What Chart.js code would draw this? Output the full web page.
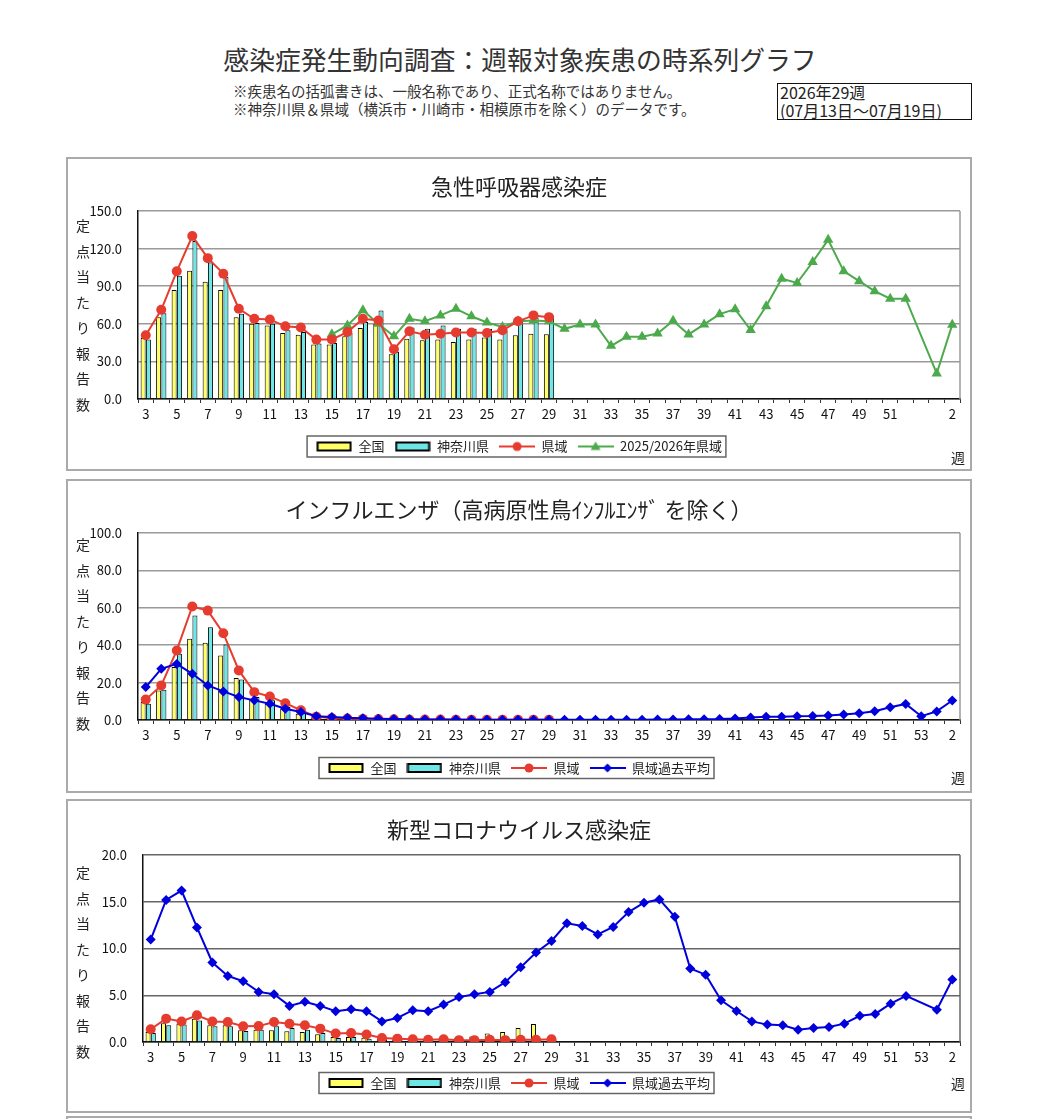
<!DOCTYPE html>
<html lang="ja">
<head>
<meta charset="utf-8">
<script src="https://cdn.jsdelivr.net/npm/chart.js@4.4.1/dist/chart.umd.min.js"></script>
<style>
body{margin:0;background:#fff;font-family:'Noto Sans CJK JP',sans-serif;color:#222;}
#page{position:relative;width:1050px;height:1119px;overflow:hidden;background:#fff;}
.abs{position:absolute;white-space:nowrap;}
.panel{position:absolute;left:66px;width:906px;height:314px;}
.panel canvas{position:absolute;left:0;top:0;}
.frame{position:absolute;left:0;top:0;width:906px;height:314px;box-sizing:border-box;border:2px solid #aaa;pointer-events:none;}
.ytitle{position:absolute;left:8px;width:18px;font-size:14px;line-height:25.5px;text-align:center;color:#222;}
.wk{position:absolute;left:885px;font-size:14px;line-height:20px;color:#222;}
</style>
</head>
<body>
<div id="page">
  <div class="abs" style="left:0;width:1040px;top:43px;text-align:center;font-size:25.8px;line-height:32px;color:#333;">感染症発生動向調査：週報対象疾患の時系列グラフ</div>
  <div class="abs" style="left:233px;top:82px;font-size:14.5px;line-height:18px;color:#333;">※疾患名の括弧書きは、一般名称であり、正式名称ではありません。<br>※神奈川県＆県域（横浜市・川崎市・相模原市を除く）のデータです。</div>
  <div class="abs" style="left:777px;top:83px;width:195px;height:37px;box-sizing:border-box;border:1.5px solid #111;padding-left:2px;font-size:16px;line-height:17.5px;color:#222;">2026年29週<br>(07月13日～07月19日)</div>

  <div class="panel" style="top:157px;">
    <canvas id="c1" width="906" height="314"></canvas>
    <div class="frame"></div>
    <div class="ytitle" style="top:56px;">定<br>点<br>当<br>た<br>り<br>報<br>告<br>数</div>
    <div class="wk" style="top:290px;">週</div>
  </div>
  <div class="panel" style="top:479px;">
    <canvas id="c2" width="906" height="314"></canvas>
    <div class="frame"></div>
    <div class="ytitle" style="top:53px;">定<br>点<br>当<br>た<br>り<br>報<br>告<br>数</div>
    <div class="wk" style="top:288px;">週</div>
  </div>
  <div class="panel" style="top:799px;">
    <canvas id="c3" width="906" height="314"></canvas>
    <div class="frame"></div>
    <div class="ytitle" style="top:61px;">定<br>点<br>当<br>た<br>り<br>報<br>告<br>数</div>
    <div class="wk" style="top:274px;">週</div>
  </div>
  <div class="panel" style="top:1116px;"><div class="frame"></div></div>
</div>
<script>
// ---------- categories (weeks) ----------
const weeks = ['3','4','5','6','7','8','9','10','11','12','13','14','15','16','17','18','19','20','21','22','23','24','25','26','27','28','29','30','31','32','33','34','35','36','37','38','39','40','41','42','43','44','45','46','47','48','49','50','51','52','53','1','2'];
// tick labels (chart 1 has no week 53 label)
const tickLabelsResp = weeks.map(w => w === '53' ? '' : w);
const tickLabelsFlu = weeks;
const tickLabelsCov = weeks;
const yTicksResp = [0, 30, 60, 90, 120, 150];
const yTicksFlu = [0, 20, 40, 60, 80, 100];
const yTicksCov = [0, 5, 10, 15, 20];

// ---------- 急性呼吸器感染症 ----------
const respNational = [48.7,65.3,87,102.4,93.6,87,65.3,60,58.7,52.6,51.3,43.4,43.4,50,56.6,60,35.7,48,46.8,47.4,45.5,47.4,49,47.4,50.8,52,51.6];
const respKanagawa = [47.4,68.5,98.4,126,109,97.5,68,60.6,60,54.8,53.4,44.2,44.7,52.6,61.4,70.6,37.6,57,56,58.7,56,56,56,54.2,64,65,66.7];
const respPref = [50.8,71.2,101.9,130,112.4,100,72,64,63.5,58,57,47.4,47.5,53.4,64,62.7,39.7,54,51.3,52,53,53,52.6,54.8,62,66.7,65.3];
const respPrevSeason = [null,null,null,null,null,null,null,null,null,null,null,null,
  51.6,58.7,70.8,60,50,64,62,66.7,72,66,61,57.4,62,62.7,62,56,59.5,59.5,42.4,49.6,49.6,52.3,62.4,51.5,59.5,67.7,71.7,55,74,96,92.6,109.3,127,102,94,86,80,80,
  null,20.4,59.3];

// ---------- インフルエンザ ----------
const fluNational = [9.6,15.8,28.3,43.4,41.3,34.5,22.4,11.4,8.7,6.0,3.4,1.5,0.9,0.6,0.5,0.4,0.3,0.2,0.2,0.2,0.1,0.1,0.1,0.1,0.1,0.1,0.1];
const fluKanagawa = [8.7,16.2,35.4,55.9,49.6,40.4,21.7,12.3,10.5,6.9,4.3,1.6,0.8,0.5,0.4,0.3,0.2,0.2,0.1,0.1,0.1,0.1,0.1,0.1,0.1,0.1,0.1];
const fluPref = [10.9,18.5,37.2,60.7,58.5,46.4,26.5,14.9,12.6,9.0,5.2,1.8,1.0,0.8,0.6,0.5,0.4,0.3,0.3,0.3,0.2,0.2,0.2,0.2,0.2,0.2,0.2];
const fluPastAvg = [17.6,27.4,30.0,24.7,18.5,15.3,12.3,10.5,8.7,6.0,4.3,2.0,1.6,1.2,1.0,0.7,0.5,0.4,0.3,0.3,0.3,0.2,0.2,0.2,0.2,0.2,0.2,
  0.2,0.2,0.2,0.2,0.2,0.2,0.3,0.3,0.4,0.4,0.5,0.8,1.3,1.7,1.8,2.0,2.1,2.4,3.0,3.6,4.7,6.8,8.6,2.0,4.6,10.4];

// ---------- 新型コロナウイルス感染症 ----------
const covNational = [1.07,2.0,1.96,2.5,1.8,1.8,1.25,1.3,1.25,1.14,1.07,0.82,0.54,0.54,0.46,0.35,0.3,0.3,0.3,0.35,0.4,0.6,0.9,1.07,1.5,1.93,null];
const covKanagawa = [0.96,1.8,1.86,2.3,1.68,1.68,1.18,1.32,1.68,1.5,1.32,0.96,0.43,0.54,0.36,0.3,0.25,0.2,0.2,0.2,0.2,0.2,0.2,0.25,0.25,0.2,0.2];
const covPref = [1.36,2.5,2.2,2.86,2.2,2.14,1.68,1.7,2.14,1.96,1.8,1.43,0.9,0.96,0.8,0.43,0.36,0.3,0.25,0.3,0.2,0.2,0.25,0.2,0.25,0.25,0.3];
const covPastAvg = [10.96,15.2,16.2,12.25,8.5,7.07,6.5,5.36,5.1,3.86,4.3,3.86,3.3,3.5,3.3,2.2,2.57,3.4,3.3,4.0,4.8,5.1,5.36,6.4,8.0,9.57,10.8,
  12.7,12.4,11.5,12.3,13.9,14.9,15.25,13.4,7.86,7.2,4.46,3.32,2.2,1.86,1.8,1.32,1.5,1.6,1.96,2.8,3.0,4.1,4.93,null,3.46,6.68];

// ---------- styling ----------
const COL = { yellow:'#ffff66', cyan:'#6ee6e6', red:'#e63c30', green:'#4caa4c', blue:'#0000dd' };
Chart.defaults.font.family = "'Noto Sans CJK JP', sans-serif";
Chart.defaults.color = '#000';

function symbolBar(fill){
  const c = document.createElement('canvas'); c.width = 36; c.height = 12;
  const x = c.getContext('2d');
  x.fillStyle = fill; x.fillRect(1.5,2,33,8);
  x.strokeStyle = '#000'; x.lineWidth = 2; x.strokeRect(1.5,2,33,8);
  return c;
}
function symbolLine(color, style){
  const c = document.createElement('canvas'); c.width = 36; c.height = 14;
  const x = c.getContext('2d');
  x.strokeStyle = color; x.lineWidth = 2;
  x.beginPath(); x.moveTo(0,7); x.lineTo(36,7); x.stroke();
  x.fillStyle = color;
  x.beginPath();
  if (style === 'circle') { x.arc(18,7,4.5,0,Math.PI*2); }
  else if (style === 'triangle') { x.moveTo(18,2); x.lineTo(23,10.5); x.lineTo(13,10.5); x.closePath(); }
  else { x.moveTo(18,2.5); x.lineTo(22.5,7); x.lineTo(18,11.5); x.lineTo(13.5,7); x.closePath(); }
  x.fill();
  return c;
}

const rightFrame = {
  id:'rightFrame',
  beforeDatasetsDraw(chart, args, opts){
    const {ctx, chartArea:a} = chart;
    ctx.save(); ctx.strokeStyle = opts.color || '#999'; ctx.lineWidth = 1.5;
    ctx.beginPath(); ctx.moveTo(a.right, a.top); ctx.lineTo(a.right, a.bottom); ctx.stroke();
    ctx.restore();
  }
};
const legendBox = {
  id:'legendBox',
  afterDraw(chart){
    const lg = chart.legend; if (!lg || !lg.legendHitBoxes || !lg.legendHitBoxes.length) return;
    let l=Infinity, r=-Infinity, t=Infinity, b=-Infinity;
    lg.legendHitBoxes.forEach(h => { l=Math.min(l,h.left); r=Math.max(r,h.left+h.width); t=Math.min(t,h.top); b=Math.max(b,h.top+h.height); });
    const ctx = chart.ctx; ctx.save(); ctx.strokeStyle = '#666'; ctx.lineWidth = 1.5;
    ctx.strokeRect(l-9, t-4, r-l+13, b-t+8); ctx.restore();
  }
};

function makeChart(id, cfg){
  const symbols = cfg.datasets.map(d => d.type === 'bar' ? symbolBar(d.backgroundColor) : symbolLine(d.borderColor, d.pointStyle));
  new Chart(document.getElementById(id), {
    type:'bar',
    data:{ labels: weeks, datasets: cfg.datasets },
    plugins:[rightFrame, legendBox],
    options:{
      responsive:false, animation:false,
      layout:{ padding:{ left:0, right:0, top:0, bottom:cfg.padBottom } },
      plugins:{
        tooltip:{ enabled:false },
        rightFrame:{ color: cfg.gridColor },
        title:{ display:true, text:cfg.title, color:'#222', font:{ size:22, weight:'normal' }, padding:{ top:cfg.titleTop, bottom:cfg.titleBottom } },
        legend:{
          position:'bottom',
          labels:{
            usePointStyle:true, pointStyleWidth:36, padding:10, color:'#222', font:{ size:13 },
            generateLabels: () => cfg.datasets.map((d,i) => ({ text:d.label, pointStyle:symbols[i], fillStyle:'#fff', strokeStyle:'#fff', lineWidth:0, hidden:false, datasetIndex:i, fontColor:'#222' }))
          }
        }
      },
      scales:{
        x:{
          afterFit(s){ s.height = cfg.xHeight; },
          grid:{ display:true, drawOnChartArea:false, drawTicks:true, tickLength:4, color:'#333', lineWidth:1, offset:true },
          border:{ display:true, color:'#111', width:1.5 },
          ticks:{ autoSkip:false, maxRotation:0, minRotation:0, padding:3, color:'#111', font:{ size:13 },
                  callback:(v,i) => i % 2 === 0 ? cfg.tickLabels[i] : '' }
        },
        y:{
          min:0, max:cfg.yTicks[cfg.yTicks.length-1],
          afterFit(s){ s.width = cfg.plotLeft; },
          afterBuildTicks(s){ s.ticks = cfg.yTicks.map(v => ({ value:v })); },
          grid:{ color:cfg.gridColor, lineWidth:1.5, drawTicks:false },
          border:{ display:true, color:'#111', width:1.5 },
          ticks:{ padding:16, color:'#111', font:{ size:13 }, callback:v => Number(v).toFixed(1) }
        },
        yRightSpace:{
          position:'right', display:true, min:0, max:1,
          afterFit(s){ s.width = 12; },
          grid:{ display:false, drawTicks:false },
          border:{ display:false },
          ticks:{ display:false }
        }
      }
    }
  });
}

const barOpts = { categoryPercentage:0.68, barPercentage:0.95, borderColor:'#000', borderWidth:1, order:3 };
const lineOpts = { borderWidth:2, tension:0, spanGaps:true };

makeChart('c1', {
  title:'急性呼吸器感染症', titleTop:16.8, titleBottom:10.8, plotLeft:72, xHeight:31, padBottom:8,
  tickLabels:tickLabelsResp, yTicks:yTicksResp, gridColor:'#9a9a9a',
  datasets:[
    Object.assign({ type:'bar', label:'全国', data:respNational, backgroundColor:COL.yellow }, barOpts),
    Object.assign({ type:'bar', label:'神奈川県', data:respKanagawa, backgroundColor:COL.cyan }, barOpts),
    Object.assign({ type:'line', label:'県域', data:respPref, borderColor:COL.red, backgroundColor:COL.red, pointStyle:'circle', pointRadius:5, pointBorderWidth:0, order:1 }, lineOpts),
    Object.assign({ type:'line', label:'2025/2026年県域', data:respPrevSeason, borderColor:COL.green, backgroundColor:COL.green, pointStyle:'triangle', pointRadius:6, pointBorderWidth:0, order:2 }, lineOpts)
  ]
});
makeChart('c2', {
  title:'インフルエンザ（高病原性鳥ｲﾝﾌﾙｴﾝｻﾞ を除く）', titleTop:17.8, titleBottom:9.8, plotLeft:72, xHeight:31.5, padBottom:8.5,
  tickLabels:tickLabelsFlu, yTicks:yTicksFlu, gridColor:'#9a9a9a',
  datasets:[
    Object.assign({ type:'bar', label:'全国', data:fluNational, backgroundColor:COL.yellow }, barOpts),
    Object.assign({ type:'bar', label:'神奈川県', data:fluKanagawa, backgroundColor:COL.cyan }, barOpts),
    Object.assign({ type:'line', label:'県域', data:fluPref, borderColor:COL.red, backgroundColor:COL.red, pointStyle:'circle', pointRadius:5, pointBorderWidth:0, order:2 }, lineOpts),
    Object.assign({ type:'line', label:'県域過去平均', data:fluPastAvg, borderColor:COL.blue, backgroundColor:COL.blue, pointStyle:'rectRot', pointRadius:5, pointBorderWidth:0, order:1 }, lineOpts)
  ]
});
makeChart('c3', {
  title:'新型コロナウイルス感染症', titleTop:17.8, titleBottom:11.8, plotLeft:77, xHeight:24.5, padBottom:13.5,
  tickLabels:tickLabelsCov, yTicks:yTicksCov, gridColor:'#666',
  datasets:[
    Object.assign({ type:'bar', label:'全国', data:covNational, backgroundColor:COL.yellow }, barOpts),
    Object.assign({ type:'bar', label:'神奈川県', data:covKanagawa, backgroundColor:COL.cyan }, barOpts),
    Object.assign({ type:'line', label:'県域', data:covPref, borderColor:COL.red, backgroundColor:COL.red, pointStyle:'circle', pointRadius:5, pointBorderWidth:0, order:2 }, lineOpts),
    Object.assign({ type:'line', label:'県域過去平均', data:covPastAvg, borderColor:COL.blue, backgroundColor:COL.blue, pointStyle:'rectRot', pointRadius:5, pointBorderWidth:0, order:1 }, lineOpts)
  ]
});
</script>
</body>
</html>
